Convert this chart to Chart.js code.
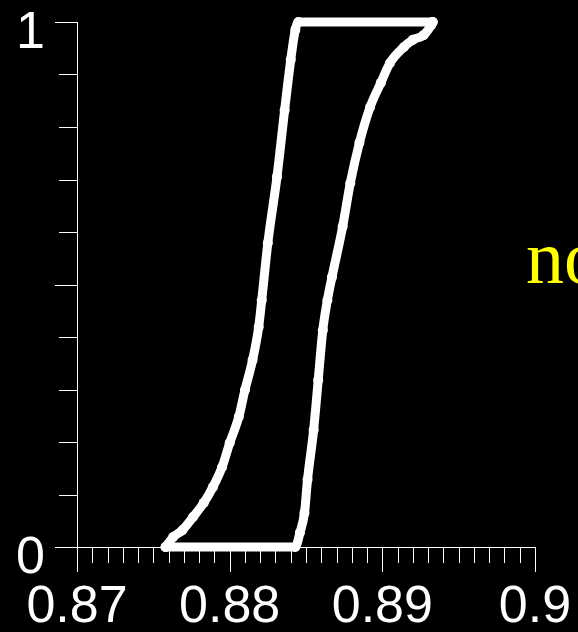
<!DOCTYPE html>
<html>
<head>
<meta charset="utf-8">
<script src="https://cdn.jsdelivr.net/npm/chart.js@4/dist/chart.umd.min.js"></script>
<style>
  html, body { margin: 0; padding: 0; background: #000; overflow: hidden; }
  #wrap { position: relative; width: 578px; height: 632px; overflow: hidden; }
  #note { position: absolute; left: 526px; top: 0; font-family: "Liberation Serif", "Times New Roman", serif;
          font-size: 76px; color: #ffff00; line-height: 1; white-space: nowrap; }
</style>
</head>
<body>
<div id="wrap">
  <canvas id="c" width="578" height="632"></canvas>
  <div id="note">no</div>
</div>
<script>
// Axis settings
const xMin = 0.87, xMax = 0.9, xMinorStep = 0.001, xMajorStep = 0.01;
const yMin = 0, yMax = 1, yMinorStep = 0.1;
const xTickLabels = ["0.87", "0.88", "0.89", "0.9"];
const yTickLabels = ["0", "1"];

// Left bound of the box
const leftX = [0.8758, 0.8763, 0.8769, 0.8776, 0.8783, 0.8789, 0.8795, 0.8800, 0.8806, 0.8810,
               0.8815, 0.8819, 0.8821, 0.8825, 0.8831, 0.8836, 0.8840, 0.8843, 0.8845, 0.8933];
const leftY = [0, 0.019, 0.032, 0.057, 0.084, 0.114, 0.152, 0.198, 0.248, 0.299,
               0.356, 0.419, 0.470, 0.579, 0.705, 0.832, 0.928, 0.985, 1, 1];

// Right bound of the box
const rightX = [0.8758, 0.8843, 0.8846, 0.8849, 0.8851, 0.8855, 0.8858, 0.8861, 0.8864, 0.8867,
                0.8874, 0.8879, 0.8885, 0.8892, 0.8899, 0.8905, 0.8914, 0.8920, 0.8927, 0.8932, 0.8933];
const rightY = [0, 0, 0.027, 0.065, 0.128, 0.223, 0.318, 0.413, 0.470, 0.514,
                0.610, 0.693, 0.770, 0.838, 0.884, 0.922, 0.952, 0.966, 0.975, 0.994, 1];

const toPts = (xs, ys) => xs.map((x, i) => ({ x: x, y: ys[i] }));
const isMult = (v, step) => Math.abs(v / step - Math.round(v / step)) < 1e-6;

const tickMarks = {
  id: 'tickMarks',
  beforeDatasetsDraw(chart) {
    const ctx = chart.ctx, xs = chart.scales.x, ys = chart.scales.y;
    ctx.save();
    ctx.strokeStyle = '#ffffff';
    ctx.lineWidth = 1;
    xs.ticks.forEach(t => {
      const px = Math.round(xs.getPixelForValue(t.value)) + 0.5;
      const len = isMult(t.value, xMajorStep) ? 25 : 16;
      ctx.beginPath(); ctx.moveTo(px, ys.bottom); ctx.lineTo(px, ys.bottom + len); ctx.stroke();
    });
    ys.ticks.forEach(t => {
      const py = Math.round(ys.getPixelForValue(t.value)) + 0.5;
      const len = isMult(t.value, 0.5) ? 22 : 18;
      ctx.beginPath(); ctx.moveTo(xs.left, py); ctx.lineTo(xs.left - len, py); ctx.stroke();
    });
    ctx.restore();
  }
};

const lineStyle = {
  showLine: true, borderColor: '#ffffff', backgroundColor: '#ffffff', borderWidth: 9,
  pointRadius: 5, pointBorderWidth: 0, pointBackgroundColor: '#ffffff',
  cubicInterpolationMode: 'monotone',
  borderCapStyle: 'round', borderJoinStyle: 'round', fill: false
};

new Chart(document.getElementById('c'), {
  type: 'scatter',
  data: {
    datasets: [
      Object.assign({ label: 'left', data: toPts(leftX, leftY) }, lineStyle),
      Object.assign({ label: 'right', data: toPts(rightX, rightY) }, lineStyle)
    ]
  },
  options: {
    responsive: false, animation: false, clip: false,
    layout: { padding: { left: 0, right: 43, top: 22, bottom: 0 } },
    plugins: { legend: { display: false }, tooltip: { enabled: false } },
    scales: {
      x: {
        type: 'linear', min: xMin, max: xMax,
        afterFit(s) { s.height = 85; s.paddingLeft = 0; s.paddingRight = 0; },
        grid: { display: true, drawOnChartArea: false, drawTicks: false },
        border: { display: true, color: '#ffffff', width: 1 },
        ticks: {
          stepSize: xMinorStep, autoSkip: false, maxRotation: 0, minRotation: 0,
          color: '#ffffff', padding: 29,
          font: { family: '"Liberation Sans", Arial, sans-serif', size: 52 },
          callback(v) {
            if (!isMult(v, xMajorStep)) return '';
            const i = Math.round((v - xMin) / xMajorStep);
            return xTickLabels[i];
          }
        }
      },
      y: {
        type: 'linear', min: yMin, max: yMax,
        afterFit(s) { s.width = 77; s.paddingTop = 0; s.paddingBottom = 0; },
        grid: { display: true, drawOnChartArea: false, drawTicks: false },
        border: { display: true, color: '#ffffff', width: 1 },
        ticks: {
          stepSize: yMinorStep, autoSkip: false, color: '#ffffff', padding: 32, labelOffset: 12,
          font: { family: '"Liberation Sans", Arial, sans-serif', size: 52 },
          callback(v) {
            if (Math.abs(v - yMin) < 1e-6) return yTickLabels[0];
            if (Math.abs(v - yMax) < 1e-6) return yTickLabels[1];
            return '';
          }
        }
      }
    }
  },
  plugins: [tickMarks]
});

// place the yellow note: baseline near y=287
(function () {
  const n = document.getElementById('note');
  n.style.top = (287 - 76 * 0.891) + 'px';
})();
</script>
</body>
</html>
